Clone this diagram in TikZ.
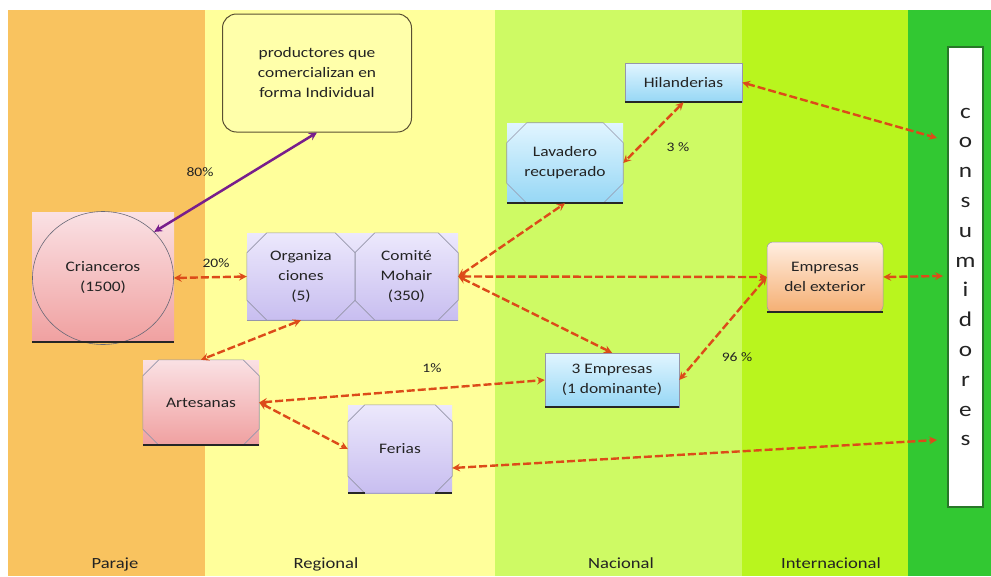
\documentclass[tikz,border=0pt]{standalone}
\usepackage{fontspec}
\setmainfont{Carlito}[FakeStretch=1.2]
\usetikzlibrary{shapes.geometric}
\definecolor{paraje}{RGB}{249,195,95}
\definecolor{regional}{RGB}{255,255,155}
\definecolor{nacional}{RGB}{206,250,100}
\definecolor{internac}{RGB}{185,245,30}
\definecolor{consverde}{RGB}{50,200,50}
\definecolor{consborde}{RGB}{40,120,40}
\definecolor{prodfill}{RGB}{255,255,170}
\definecolor{prodborde}{RGB}{90,80,50}
\definecolor{pinktop}{RGB}{250,225,228}
\definecolor{pinkbot}{RGB}{240,160,160}
\definecolor{lilatop}{RGB}{236,232,252}
\definecolor{lilabot}{RGB}{200,190,240}
\definecolor{bluetop}{RGB}{225,245,255}
\definecolor{bluebot}{RGB}{150,215,245}
\definecolor{exttop}{RGB}{255,238,225}
\definecolor{extbot}{RGB}{245,175,115}
\definecolor{flecha}{RGB}{220,75,25}
\definecolor{violeta}{RGB}{120,30,140}
\definecolor{txt}{RGB}{35,35,35}
\definecolor{octgris}{RGB}{150,150,170}
% contorno octogonal sobre un nodo rectangular
\newcommand{\octo}[2]{\draw[octline] ([xshift=#2pt]#1.north west) -- ([xshift=-#2pt]#1.north east) -- ([yshift=-#2pt]#1.north east) -- ([yshift=#2pt]#1.south east) -- ([xshift=-#2pt]#1.south east) -- ([xshift=#2pt]#1.south west) -- ([yshift=#2pt]#1.south west) -- ([yshift=-#2pt]#1.north west) -- cycle;}
\begin{document}
\begin{tikzpicture}[x=1pt,y=-1pt,>=stealth,
    every node/.style={text=txt,font=\fontsize{14.5}{20}\selectfont,align=center,inner sep=0pt},
    pinkbox/.style={rectangle,top color=pinktop,bottom color=pinkbot},
    lilabox/.style={rectangle,top color=lilatop,bottom color=lilabot},
    bluebox/.style={rectangle,top color=bluetop,bottom color=bluebot,draw=octgris,line width=0.5pt},
    flechas/.style={<->,draw=flecha,line width=2.4pt,dash pattern=on 8pt off 3pt},
    octline/.style={draw=octgris,line width=0.6pt},
    sombra/.style={line width=1.6pt,draw=black!85},
    pct/.style={font=\fontsize{13}{15}\selectfont},
    banda/.style={anchor=base,font=\fontsize{15.5}{18}\selectfont}]
    % bandas
    \fill[white] (0,0) rectangle (991,576);
    \fill[paraje] (8,10) rectangle (205,576);
    \fill[regional] (205,10) rectangle (495,576);
    \fill[nacional] (495,10) rectangle (742,576);
    \fill[internac] (742,10) rectangle (908,576);
    \fill[consverde] (908,10) rectangle (991,576);
    \useasboundingbox (0,0) rectangle (991,576);
    \node[banda] (lparaje) at (115,568) {Paraje};
    \node[banda] (lregional) at (326,568) {Regional};
    \node[banda] (lnacional) at (621,568) {Nacional};
    \node[banda] (linternac) at (831,568) {Internacional};
    % nodos
    \node[draw=prodborde,line width=1pt,rounded corners=14pt,fill=prodfill,minimum width=189pt,minimum height=118pt] (prod) at (317,73) {productores que\\comercializan en\\forma Individual};
    \node[pinkbox,minimum width=142pt,minimum height=130pt] (crianfondo) at (103,277) {};
    \node[ellipse,draw=octgris!70!black,line width=0.6pt,minimum width=141pt,minimum height=133pt] (crian) at (103,278) {Crianceros\\(1500)};
    \draw[sombra] (crianfondo.south west) -- (crianfondo.south east);
    \node[lilabox,minimum width=108pt,minimum height=87pt] (org) at (301,276.5) {Organiza\\ciones\\(5)};
    \node[lilabox,minimum width=103pt,minimum height=87pt] (com) at (406.5,276.5) {Comité\\Mohair\\(350)};
    \octo{org}{20}
    \octo{com}{20}
    \draw[octline] (org.south west) -- (com.south east);
    \node[pinkbox,minimum width=116pt,minimum height=85pt] (arte) at (201,402.5) {Artesanas};
    \octo{arte}{16}
    \draw[sombra] (arte.south west) -- (arte.south east);
    \node[lilabox,minimum width=104pt,minimum height=88pt] (feria) at (400,449) {Ferias};
    \octo{feria}{17}
    \draw[sombra] (feria.south west) -- ([xshift=17pt]feria.south west);
    \draw[sombra] ([xshift=-17pt]feria.south east) -- (feria.south east);
    \node[bluebox,draw=none,minimum width=116pt,minimum height=80pt] (lav) at (565,163) {Lavadero\\recuperado};
    \octo{lav}{20}
    \draw[sombra] (lav.south west) -- (lav.south east);
    \node[bluebox,minimum width=117pt,minimum height=39pt] (hil) at (683.5,82.5) {Hilanderias};
    \draw[sombra] (hil.south west) -- (hil.south east);
    \node[bluebox,minimum width=134pt,minimum height=54pt] (tres) at (612,380) {3 Empresas\\(1 dominante)};
    \draw[sombra] (tres.south west) -- (tres.south east);
    \node[rectangle,rounded corners=6pt,top color=exttop,bottom color=extbot,draw=octgris,line width=0.5pt,minimum width=116pt,minimum height=70pt] (ext) at (825,277) {Empresas\\del exterior};
    \draw[sombra] (ext.south west) -- (ext.south east);
    \node[draw=consborde,line width=1.2pt,fill=white,minimum width=35pt,minimum height=460pt,font=\fontsize{21}{29.8}\selectfont] (cons) at (965.5,277) {c\\o\\n\\s\\u\\m\\i\\d\\o\\r\\e\\s};
    \coordinate (consA) at (937,138);
    \coordinate (consB) at (943,276);
    \coordinate (consC) at (937,440);
    % porcentajes
    \node[pct] (p80) at (200,172) {80\%};
    \node[pct] (p20) at (216,263) {20\%};
    \node[pct] (p1) at (432,368) {1\%};
    \node[pct] (p3) at (678,147) {3 \%};
    \node[pct] (p96) at (737,357) {96 \%};
    % flechas
    \draw[<->,draw=violeta,line width=2.5pt] (crian.42) -- (prod.south);
    \draw[flechas] (crian.east) -- (org.west);
    \draw[flechas] (org.south) -- (arte.north);
    \draw[flechas] (com.east) -- (lav.south);
    \draw[flechas] (com.east) -- (ext.west);
    \draw[flechas] (com.east) -- (tres.north);
    \draw[flechas] (hil.south) -- (lav.east);
    \draw[flechas] (hil.east) -- (consA);
    \draw[flechas] (ext.east) -- (consB);
    \draw[flechas] (ext.west) -- (tres.east);
    \draw[flechas] (arte.east) -- (tres.west);
    \draw[flechas] (arte.east) -- (feria.west);
    \draw[flechas] (feria.-20) -- (consC);
\end{tikzpicture}
\end{document}
